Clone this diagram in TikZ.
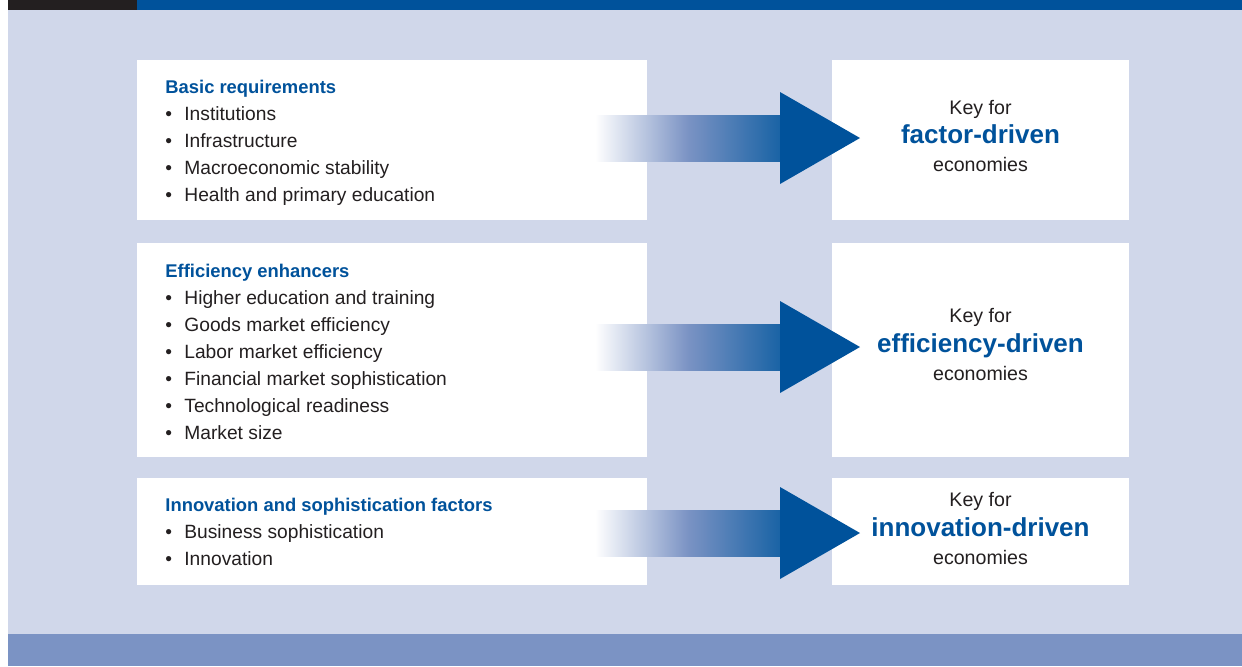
\documentclass[tikz,border=0pt]{standalone}
\usepackage{fontspec}
\setmainfont{Liberation Sans}
\usetikzlibrary{positioning,calc}

\definecolor{wefblue}{RGB}{0,82,155}
\definecolor{panelbg}{RGB}{208,215,234}
\definecolor{footband}{RGB}{123,147,196}
\definecolor{inkgray}{RGB}{35,31,32}

\tikzset{
  panel/.style={draw=none, fill=white, inner sep=0pt, outer sep=0pt, anchor=north west},
  pillars/.style={anchor=north west, inner sep=0pt, align=left, text=inkgray,
    font=\fontsize{9.6}{13.5}\selectfont},
  keyline/.style={anchor=base, inner sep=0pt, text=inkgray, font=\fontsize{9.8}{12}\selectfont},
  stage/.style={anchor=base, inner sep=0pt, text=wefblue, font=\fontsize{13}{15}\bfseries\selectfont},
  % middle color has to come last, right color resets it
  shaft/.style={left color=white, right color=wefblue!90!white, middle color=footband},
  head/.style={fill=wefblue}
}
\newcommand{\heading}[1]{{\color{wefblue}\fontsize{9.2}{13.5}\bfseries\selectfont #1}}
\newcommand{\pillar}[1]{\makebox[9.5pt][l]{\textbullet}#1}
% shaded shaft + solid head, tail -> tip
\newcommand{\keyarrow}[2]{%
  \shade[shaft] ($(#1)+(0,-23)$) rectangle ($(#2)+(-80,23)$);
  \fill[head] ($(#2)+(-80,-46)$) -- (#2) -- ($(#2)+(-80,46)$) -- cycle;}

\begin{document}
\begin{tikzpicture}[x=0.5pt, y=-0.5pt]
  \useasboundingbox (0,0) rectangle (1242,666);
  \fill[white] (0,0) rectangle (1242,666);

  % background and bands
  \fill[panelbg] (8,10) rectangle (1242,634);
  \fill[footband] (8,634) rectangle (1242,666);
  \fill[inkgray] (8,0) rectangle (137,10);
  \fill[wefblue] (137,0) rectangle (1242,10);

  % left panels
  \node[panel, minimum width=254.75pt, minimum height=80pt] (basic) at (137,60) {};
  \node[panel, minimum width=254.75pt, minimum height=107pt] (efficiency) at (137,243) {};
  \node[panel, minimum width=254.75pt, minimum height=53.5pt] (innovation) at (137,478) {};

  % right panels
  \node[panel, minimum width=148.5pt, minimum height=80pt] (factor) at (832,60) {};
  \node[panel, minimum width=148.5pt, minimum height=107pt] (effdriven) at (832,243) {};
  \node[panel, minimum width=148.5pt, minimum height=53.5pt] (innodriven) at (832,478) {};

  \node[pillars] (basic text) at ($(basic.north west)+(28,20)$) {%
    \heading{Basic requirements}\\
    \pillar{Institutions}\\
    \pillar{Infrastructure}\\
    \pillar{Macroeconomic stability}\\
    \pillar{Health and primary education}};

  \node[pillars] (efficiency text) at ($(efficiency.north west)+(28,20.5)$) {%
    \heading{Efficiency enhancers}\\
    \pillar{Higher education and training}\\
    \pillar{Goods market efficiency}\\
    \pillar{Labor market efficiency}\\
    \pillar{Financial market sophistication}\\
    \pillar{Technological readiness}\\
    \pillar{Market size}};

  \node[pillars] (innovation text) at ($(innovation.north west)+(28,20)$) {%
    \heading{Innovation and sophistication factors}\\
    \pillar{Business sophistication}\\
    \pillar{Innovation}};

  % stage labels
  \node[keyline] (factor key) at ($(factor.center)+(0,-26)$) {Key for};
  \node[stage] (factor stage) at ($(factor.center)+(0,3)$) {factor-driven};
  \node[keyline] (factor eco) at ($(factor.center)+(0,31)$) {economies};

  \node[keyline] (effdriven key) at ($(effdriven.center)+(0,-28)$) {Key for};
  \node[stage] (effdriven stage) at ($(effdriven.center)+(0,2)$) {efficiency-driven};
  \node[keyline] (effdriven eco) at ($(effdriven.center)+(0,30)$) {economies};

  \node[keyline] (innodriven key) at ($(innodriven.center)+(0,-25)$) {Key for};
  \node[stage] (innodriven stage) at ($(innodriven.center)+(0,5)$) {innovation-driven};
  \node[keyline] (innodriven eco) at ($(innodriven.center)+(0,33)$) {economies};

  % arrows
  \coordinate (basic tail) at (595,138);
  \coordinate (factor tip) at ($(factor.west)+(28,-2)$);
  \coordinate (efficiency tail) at (595,347);
  \coordinate (effdriven tip) at ($(effdriven.west)+(28,-3)$);
  \coordinate (innovation tail) at (595,533);
  \coordinate (innodriven tip) at ($(innodriven.west)+(28,1.5)$);

  \keyarrow{basic tail}{factor tip}
  \keyarrow{efficiency tail}{effdriven tip}
  \keyarrow{innovation tail}{innodriven tip}
\end{tikzpicture}
\end{document}
